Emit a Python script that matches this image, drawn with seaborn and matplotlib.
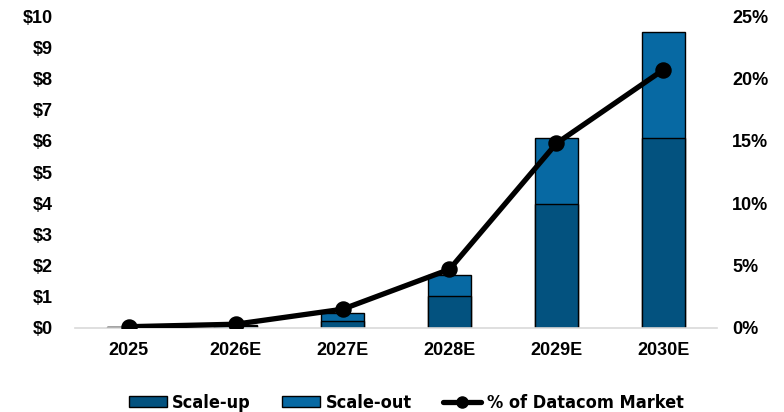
import numpy as np
import pandas as pd
import matplotlib
matplotlib.use("Agg")
import matplotlib.pyplot as plt
from matplotlib.patches import Patch
from matplotlib.lines import Line2D
import seaborn as sns

years = ["2025", "2026E", "2027E", "2028E", "2029E", "2030E"]
scale_up = [0.02, 0.06, 0.22, 1.03, 3.97, 6.09]
scale_out = [0.01, 0.05, 0.26, 0.67, 2.12, 3.40]
pct_datacom = [0.1, 0.3, 1.5, 4.7, 14.8, 20.7]

c_up = "#03527f"
c_out = "#0769a3"

sns.set_theme(style="white")
plt.rcParams["font.family"] = ["Liberation Sans", "DejaVu Sans"]

df = pd.DataFrame({"year": years, "up": scale_up, "out": scale_out})
df["total"] = df["up"] + df["out"]

fig = plt.figure(figsize=(7.84, 4.12), dpi=100)
ax = fig.add_axes([0.0957, 0.204, 0.8188, 0.757])

sns.barplot(data=df, x="year", y="total", color=c_out, saturation=1,
            width=0.4, edgecolor="black", linewidth=1, ax=ax)
sns.barplot(data=df, x="year", y="up", color=c_up, saturation=1,
            width=0.4, edgecolor="black", linewidth=1, ax=ax)
ax.set_ylim(0, 10)
ax.set_yticks(range(0, 11))
ax.set_yticklabels([f"${v}" for v in range(0, 11)])
ax.set_xlabel("")
ax.set_ylabel("")

ax2 = ax.twinx()
sns.pointplot(x=years, y=pct_datacom, color="black", markers="o",
              markersize=9, linewidth=3.8, ax=ax2)
ax2.set_ylim(0, 25)
ax2.set_yticks(range(0, 26, 5))
ax2.set_yticklabels([f"{v}%" for v in range(0, 26, 5)])
ax.set_xlim(-0.5, 5.5)

for a in (ax, ax2):
    for s in a.spines.values():
        s.set_visible(False)
    a.tick_params(length=0, labelsize=13, labelcolor="black")
    for lbl in a.get_xticklabels() + a.get_yticklabels():
        lbl.set_fontweight("bold")
ax.spines["bottom"].set_visible(True)
ax.spines["bottom"].set_color("#d9d9d9")
ax.spines["bottom"].set_linewidth(1.2)
ax.tick_params(axis="y", pad=16)
ax.tick_params(axis="x", pad=10)
ax2.tick_params(axis="y", pad=11)

handles = [
    Patch(facecolor=c_up, edgecolor="black", label="Scale-up"),
    Patch(facecolor=c_out, edgecolor="black", label="Scale-out"),
    Line2D([0], [0], color="black", lw=3.8, marker="o", markersize=8,
           label="% of Datacom Market"),
]
leg = fig.legend(handles=handles, loc="center", bbox_to_anchor=(0.518, 0.022),
                 ncol=3, frameon=False, handlelength=2.1, handleheight=0.6,
                 columnspacing=1.75, handletextpad=0.3,
                 prop={"family": ["DejaVu Sans"], "weight": "bold", "size": 13,
                       "stretch": "condensed"})
for t in leg.get_texts():
    t.set_color("black")

fig.savefig("out.png", dpi=100)
